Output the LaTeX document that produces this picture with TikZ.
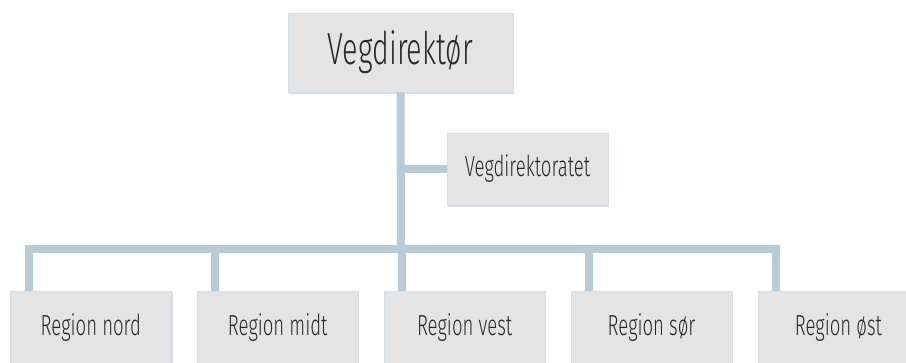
\documentclass[tikz,border=0pt]{standalone}
\usepackage{fontspec}
\setmainfont{Fira Sans}[FakeStretch=0.64, UprightFont={* Light}]
\usepackage{xcolor}
\usetikzlibrary{positioning, shadows}

\definecolor{boxfill}{HTML}{E4E4E4}
\definecolor{boxedge}{HTML}{D5DFE8}
\definecolor{linkblue}{HTML}{B9CAD8}
\definecolor{shadeblue}{HTML}{B7CADB}
\definecolor{textgray}{HTML}{2A2A2A}

\tikzset{
  unit/.style={fill=boxfill, draw=boxedge, line width=0.6pt, text=textgray, inner sep=0pt,
    drop shadow={shadow xshift=1.2pt, shadow yshift=-1.6pt, fill=shadeblue, opacity=0.6}},
  region/.style={unit, minimum width=161pt, text height=44pt, text depth=40pt,
    font=\fontsize{29}{30}\selectfont},
  link/.style={draw=linkblue, line width=8pt},
}

\begin{document}
\begin{tikzpicture}[x=1pt, y=-1pt]
    \clip (0,0) rectangle (906,363);

    % Director
    \node[unit, minimum width=225pt, minimum height=79pt, font=\fontsize{45}{46}\selectfont]
      (dir) at (400.5,52.5) {Vegdirektør};

    % Directorate
    \node[unit, minimum width=161pt, minimum height=72pt, font=\fontsize{29}{30}\selectfont]
      (vd) at (527.5,169) {Vegdirektoratet};

    % Regions
    \node[region, anchor=north west] (nord) at (10,291) {Region nord};
    \node[region, right=25.3pt of nord] (midt) {Region midt};
    \node[region, right=25.3pt of midt] (vest) {Region vest};
    \node[region, right=25.3pt of vest] (sor) {Region sør};
    \node[region, right=25.3pt of sor] (ost) {Region øst};

    % Split point on the bar
    \coordinate (split) at (401,249);

    % Links
    \draw[link] (split) -- (dir.south);
    \draw[link] (vd.west) -- (vd.west -| dir.south);
    \draw[link] ([xshift=18.5pt]nord.north west) |- (split);
    \draw[link] ([xshift=18.5pt]midt.north west) |- (split);
    \draw[link] ([xshift=18.5pt]vest.north west) |- (split);
    \draw[link] ([xshift=18.5pt]sor.north west) |- (split);
    \draw[link] ([xshift=18.5pt]ost.north west) |- (split);
\end{tikzpicture}
\end{document}
